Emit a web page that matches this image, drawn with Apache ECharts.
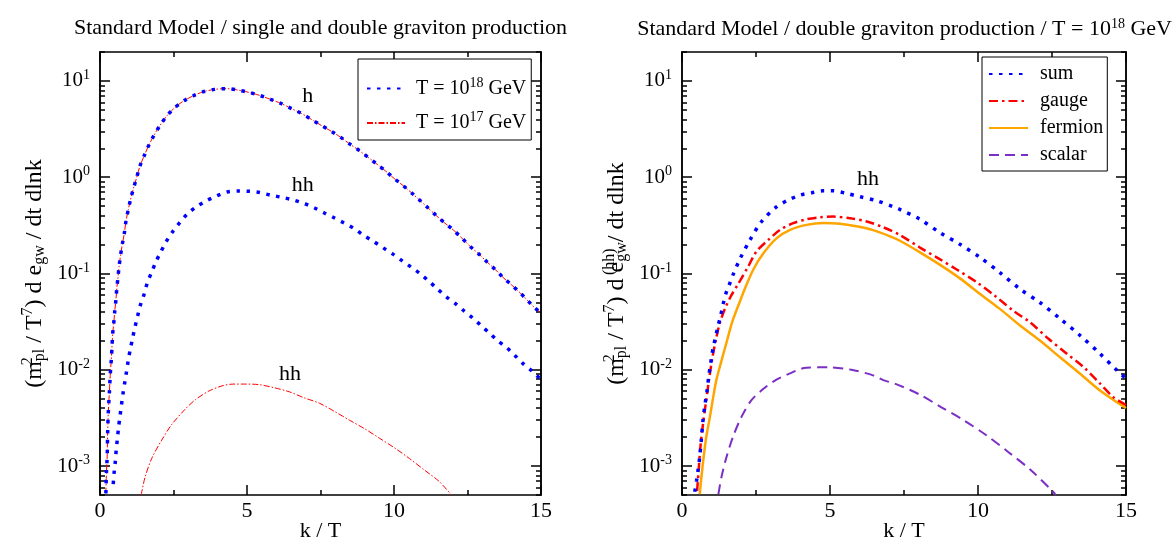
<!DOCTYPE html>
<html>
<head>
<meta charset="utf-8">
<script src="https://cdn.jsdelivr.net/npm/echarts@6/dist/echarts.min.js"></script>
<style>
    html,body{margin:0;padding:0;background:#fff}
    #chart{width:1176px;height:541px}
</style>
</head>
<body>
<div id="chart"></div>
<script>
// left panel: h and hh, T = 1e18 (blue dots) and T = 1e17 (red dash-dot)
var kH18 = [0.20,0.22,0.24,0.25,0.26,0.28,0.30,0.32,0.34,0.36,0.39,0.41,0.43,0.47,0.50,0.54,0.57,0.61,0.65,0.70,0.76,0.83,0.88,0.96,1.04,1.14,1.25,1.36,1.51,1.66,1.84,2.04,2.27,2.54,2.84,3.18,3.52,3.90,4.31,4.69,5.06,5.42,5.80,6.15,6.50,6.85,7.19,7.53,7.86,8.18,8.49,8.81,9.12,9.43,9.72,10.01,10.31,10.60,10.88,11.16,11.44,11.73,12.03,12.31,12.59,12.88,13.15,13.43,13.71,14.00,14.29,14.54,14.80,15.00];
var vH18 = [5.2e-4,8.7e-4,1.15e-3,1.5e-3,2.2e-3,3.5e-3,4.6e-3,5.9e-3,7.9e-3,0.010,0.0135,0.0178,0.0234,0.031,0.040,0.0525,0.069,0.090,0.119,0.155,0.202,0.265,0.345,0.457,0.59,0.767,1.0,1.31,1.69,2.15,2.74,3.45,4.32,5.27,6.19,7.03,7.74,8.18,8.32,8.05,7.62,7.10,6.44,5.85,5.19,4.60,3.99,3.45,3.01,2.61,2.22,1.90,1.61,1.36,1.155,0.968,0.818,0.687,0.575,0.480,0.399,0.334,0.281,0.233,0.191,0.160,0.133,0.111,0.091,0.076,0.063,0.0525,0.0437,0.039];
var kH17 = [0.20,0.22,0.24,0.26,0.28,0.30,0.32,0.34,0.36,0.39,0.41,0.43,0.47,0.50,0.54,0.57,0.61,0.65,0.70,0.76,0.83,0.88,0.96,1.04,1.14,1.25,1.36,1.51,1.66,1.84,2.04,2.27,2.54,2.84,3.18,3.52,3.90,4.31,4.69,5.06,5.42,5.80,6.15,6.50,6.85,7.19,7.53,7.86,8.18,8.49,8.81,9.12,9.43,9.72,10.01,10.31,10.60,10.88,11.16,11.44,11.73,12.03,12.31,12.59,12.88,13.15,13.43,13.71,14.00,14.29,14.54,14.80,15.00];
var vH17 = [5.2e-4,8.7e-4,1.15e-3,2.2e-3,3.5e-3,4.6e-3,5.9e-3,7.9e-3,0.010,0.0135,0.0178,0.0234,0.031,0.040,0.0525,0.069,0.090,0.119,0.155,0.202,0.265,0.345,0.457,0.59,0.767,1.0,1.31,1.69,2.15,2.74,3.45,4.32,5.27,6.19,7.03,7.74,8.18,8.32,8.05,7.62,7.10,6.44,5.85,5.19,4.60,3.99,3.45,3.01,2.61,2.22,1.90,1.61,1.36,1.155,0.968,0.818,0.687,0.575,0.480,0.399,0.334,0.281,0.233,0.191,0.160,0.133,0.111,0.091,0.076,0.063,0.0525,0.0437,0.039];
var kHH18 = [0.45,0.48,0.52,0.55,0.59,0.63,0.68,0.73,0.78,0.84,0.90,0.96,1.03,1.11,1.19,1.28,1.38,1.50,1.61,1.75,1.90,2.07,2.25,2.47,2.71,2.96,3.27,3.60,3.94,4.32,4.71,5.08,5.45,5.82,6.20,6.57,6.93,7.28,7.63,7.96,8.30,8.64,8.95,9.27,9.63,9.95,10.27,10.59,10.88,11.17,11.48,11.77,12.08,12.39,12.67,12.96,13.25,13.53,13.83,14.11,14.40,14.68,15.00];
var vHH18 = [6.5e-4,8.5e-4,1.1e-3,1.45e-3,1.9e-3,2.5e-3,3.3e-3,4.3e-3,5.6e-3,7.3e-3,9.5e-3,0.0125,0.0163,0.0214,0.0278,0.0362,0.0475,0.061,0.080,0.102,0.132,0.168,0.214,0.272,0.337,0.412,0.491,0.566,0.634,0.703,0.721,0.714,0.692,0.649,0.617,0.581,0.536,0.483,0.425,0.380,0.335,0.294,0.251,0.219,0.185,0.160,0.136,0.116,0.100,0.084,0.069,0.0575,0.049,0.0407,0.0347,0.0288,0.024,0.020,0.017,0.0141,0.0115,0.0098,0.0079];
var kHH17 = [1.40,1.53,1.76,2.10,2.44,2.90,3.25,3.70,4.15,4.53,4.97,5.42,5.93,6.44,6.95,7.46,7.97,8.48,8.99,9.50,10.01,10.52,11.03,11.54,11.95];
var vHH17 = [5.0e-4,7.6e-4,1.2e-3,1.86e-3,2.7e-3,3.9e-3,4.9e-3,6.0e-3,6.8e-3,7.1e-3,7.1e-3,7.0e-3,6.5e-3,5.9e-3,5.1e-3,4.5e-3,3.7e-3,3.0e-3,2.45e-3,1.95e-3,1.55e-3,1.2e-3,9.1e-4,6.9e-4,5.0e-4];

// right panel: hh at T = 1e18, split by species
var kSum = [0.43,0.49,0.54,0.60,0.66,0.71,0.77,0.845,0.91,0.99,1.05,1.13,1.22,1.31,1.39,1.48,1.58,1.73,1.96,2.30,2.69,3.20,3.59,3.99,4.38,4.77,5.11,5.56,6.01,6.58,7.14,7.36,8.04,8.72,9.39,10.07,10.74,11.42,12.09,12.77,13.45,14.12,14.69,15.00];
var vSum = [5.4e-4,7.0e-4,9.0e-4,1.25e-3,2.0e-3,3.0e-3,4.2e-3,6.0e-3,8.8e-3,0.0129,0.0168,0.0216,0.0286,0.037,0.048,0.0617,0.074,0.098,0.142,0.224,0.347,0.494,0.579,0.652,0.689,0.723,0.723,0.679,0.627,0.570,0.494,0.463,0.366,0.265,0.201,0.147,0.102,0.069,0.050,0.034,0.0227,0.0147,0.0099,0.0081];
var kGauge = [0.51,0.56,0.62,0.71,0.80,0.91,1.03,1.16,1.27,1.45,1.65,1.90,2.24,2.52,2.92,3.31,3.76,4.21,4.66,5.11,5.68,6.24,6.80,7.36,8.04,8.72,9.28,9.96,10.57,11.19,11.76,12.38,13.00,13.56,14.12,14.57,15.00];
var vGauge = [5.5e-4,8.9e-4,1.55e-3,2.75e-3,4.4e-3,7.8e-3,0.0135,0.0216,0.030,0.043,0.058,0.078,0.119,0.170,0.224,0.284,0.333,0.366,0.384,0.390,0.375,0.347,0.302,0.251,0.186,0.140,0.110,0.081,0.0587,0.0411,0.0311,0.021,0.0147,0.0107,0.0072,0.0052,0.0043];
var kFermion = [0.60,0.655,0.73,0.82,0.94,1.05,1.16,1.33,1.50,1.70,1.92,2.12,2.41,2.75,3.20,3.65,4.21,4.77,5.34,5.90,6.46,7.03,7.36,8.04,8.72,9.39,10.07,10.74,11.42,12.09,12.77,13.45,14.12,15.00];
var vFermion = [5.1e-4,7.6e-4,1.23e-3,2.0e-3,3.2e-3,5.1e-3,7.8e-3,0.0123,0.019,0.0316,0.0479,0.069,0.110,0.162,0.233,0.284,0.320,0.335,0.329,0.309,0.282,0.243,0.219,0.166,0.123,0.089,0.0612,0.0429,0.0288,0.0201,0.0135,0.0091,0.0061,0.0040];
var kScalar = [1.23,1.33,1.50,1.72,2.00,2.34,2.74,3.19,3.59,4.20,4.96,5.72,6.48,6.80,7.23,7.99,8.75,9.51,10.27,11.02,11.78,12.54,12.62];
var vScalar = [5.1e-4,7.6e-4,1.23e-3,2.0e-3,3.2e-3,4.8e-3,6.3e-3,7.9e-3,9.0e-3,0.0105,0.0106,0.0100,0.0087,0.0078,0.0071,0.0056,0.0041,0.0030,0.0021,0.0014,9.1e-4,5.4e-4,5.0e-4];

var xTicks = [0, 5, 10, 15];
var yMajor = [1e-3, 1e-2, 1e-1, 1, 10];

var FONT = 'Liberation Serif';
var yMinor = [];
for (var n = -4; n <= 1; n++) {
    for (var m = 2; m <= 9; m++) {
        var v = m * Math.pow(10, n);
        if (v >= 5e-4 && v <= 20) yMinor.push(v);
    }
}

function pairs(ks, vs) {
    return ks.map(function (k, i) { return [k, vs[i]]; });
}

var rich = {
    sup: {fontFamily: FONT, fontSize: 14, color: '#000', padding: [0, 0, 11, 0]},
    sup0: {fontFamily: FONT, fontSize: 16, color: '#000', padding: [0, 0, 13, 0], width: 0, align: 'left'},
    sub: {fontFamily: FONT, fontSize: 16, color: '#000', padding: [11, 0, 0, 0], align: 'left'},
    nsup: {fontFamily: FONT, fontSize: 16, color: '#000', padding: [0, 0, 13, 0]}
};

function xAxes(g, pos) {
    return {
        type: 'value', gridIndex: g, position: pos, min: 0, max: 15, interval: 5,
        axisLine: {onZero: false, lineStyle: {color: '#000', width: 1.5}},
        axisTick: {inside: true, length: 10, lineStyle: {color: '#000', width: 1.5}},
        minorTick: {show: true, splitNumber: 2, length: 5, lineStyle: {color: '#000', width: 1.5}},
        splitLine: {show: false},
        axisLabel: {show: pos == 'bottom', color: '#000', fontFamily: FONT, fontSize: 22, margin: 5},
        name: pos == 'bottom' ? 'k / T' : '',
        nameLocation: 'middle', nameGap: 25, nameMoveOverlap: false,
        nameTextStyle: {color: '#000', fontFamily: FONT, fontSize: 22}
    };
}

function yAxes(g, pos, major, name) {
    var ax = {
        type: 'log', logBase: 10, gridIndex: g, position: pos, min: 5e-4, max: 20,
        axisLine: {onZero: false, lineStyle: {color: '#000', width: 1.5}},
        axisTick: {inside: true, length: major ? 10 : 5, customValues: major ? yMajor : yMinor,
            lineStyle: {color: '#000', width: 1.5}},
        splitLine: {show: false},
        axisLabel: {show: false}
    };
    if (major && pos == 'left') {
        ax.axisLabel = {
            show: true, customValues: yMajor, margin: 10, color: '#000',
            fontFamily: FONT, fontSize: 21,
            formatter: function (v) {
                return '10{sup|' + Math.round(Math.log10(v)) + '}';
            },
            rich: rich
        };
        ax.name = name;
        ax.nameLocation = 'middle';
        ax.nameRotate = 90;
        ax.nameGap = 51;
        ax.nameTextStyle = {color: '#000', fontFamily: FONT, fontSize: 24, rich: rich};
    }
    return ax;
}

var myChart = echarts.init(document.getElementById('chart'));

var lineBase = {type: 'line', showSymbol: false, symbol: 'none', smooth: 0.3, animation: false};

function ser(name, g, ks, vs, ls, mark) {
    var s = Object.assign({}, lineBase, {
        name: name, xAxisIndex: g * 2, yAxisIndex: g * 4,
        data: pairs(ks, vs), lineStyle: ls, itemStyle: {color: ls.color},
        z: 3
    });
    if (mark) {
        s.markPoint = {
            symbol: 'circle', symbolSize: 0, silent: true,
            label: {show: true, formatter: mark.text, color: '#000', fontFamily: FONT, fontSize: 22},
            data: [{coord: mark.coord}]
        };
    }
    return s;
}

var blueDots = {color: '#0000ff', width: 3.5, type: [3.5, 6.5], cap: 'butt'};
var noSym = {color: 'rgba(0,0,0,0)', borderWidth: 0};

option = {
    backgroundColor: '#fff',
    animation: false,
    title: [
        {text: 'Standard Model / single and double graviton production', left: 74, top: 17, padding: 0,
            textStyle: {color: '#000', fontFamily: FONT, fontSize: 22, fontWeight: 'normal'}},
        {text: 'Standard Model / double graviton production / T = 10{sup|18} GeV', right: 4, top: 17, padding: 0,
            textStyle: {color: '#000', fontFamily: FONT, fontSize: 22, fontWeight: 'normal', rich: rich}}
    ],
    grid: [
        {left: 100, top: 52, width: 441, height: 443, outerBoundsMode: 'none'},
        {left: 682, top: 52, width: 444, height: 443, outerBoundsMode: 'none'}
    ],
    legend: [
        {
            data: ['T18', 'T17'], orient: 'vertical', left: 358, top: 59,
            itemWidth: 38, itemHeight: 14, itemGap: 12,
            padding: [17, 5, 7, 8], borderColor: '#000', borderWidth: 1, backgroundColor: '#fff',
            itemStyle: noSym,
            textStyle: {color: '#000', fontFamily: FONT, fontSize: 20, padding: [0, 0, 0, 6], rich: rich},
            formatter: function (n) { return n == 'T18' ? 'T = 10{sup|18} GeV' : 'T = 10{sup|17} GeV'; }
        },
        {
            data: ['sum', 'gauge', 'fermion', 'scalar'], orient: 'vertical', left: 982, top: 57,
            itemWidth: 39, itemHeight: 14, itemGap: 7,
            padding: [7, 4, 6, 6], borderColor: '#000', borderWidth: 1, backgroundColor: '#fff',
            itemStyle: noSym,
            textStyle: {color: '#000', fontFamily: FONT, fontSize: 20, padding: [0, 0, 0, 7]}
        }
    ],
    xAxis: [xAxes(0, 'bottom'), xAxes(0, 'top'), xAxes(1, 'bottom'), xAxes(1, 'top')],
    yAxis: [
        yAxes(0, 'left', true, '(m{sup0|2}{sub|pl} / T{nsup|7}) d e{sub|gw} / dt dlnk'),
        yAxes(0, 'left', false), yAxes(0, 'right', true), yAxes(0, 'right', false),
        yAxes(1, 'left', true, '(m{sup0|2}{sub|pl} / T{nsup|7}) d e{sup0|(hh)}{sub|gw}/ dt dlnk'),
        yAxes(1, 'left', false), yAxes(1, 'right', true), yAxes(1, 'right', false)
    ],
    series: [
        ser('T17', 0, kH17, vH17, {color: '#ff0000', width: 1, type: [6, 2, 1.5, 2]}),
        ser('T17', 0, kHH17, vHH17, {color: '#ff0000', width: 1, type: [6, 2, 1.5, 2]}, {text: 'hh', coord: [6.46, 0.0089]}),
        ser('T18', 0, kH18, vH18, blueDots, {text: 'h', coord: [7.07, 6.9]}),
        ser('T18', 0, kHH18, vHH18, blueDots, {text: 'hh', coord: [6.9, 0.83]}),
        ser('scalar', 1, kScalar, vScalar, {color: '#7b2fc4', width: 2, type: [10, 6]}),
        ser('fermion', 1, kFermion, vFermion, {color: '#ffa500', width: 2.5}),
        ser('gauge', 1, kGauge, vGauge, {color: '#ff0000', width: 2.5, type: [9, 4, 2.5, 4]}),
        ser('sum', 1, kSum, vSum, blueDots, {text: 'hh', coord: [6.28, 0.96]})
    ]
};

myChart.setOption(option);
</script>
</body>
</html>
